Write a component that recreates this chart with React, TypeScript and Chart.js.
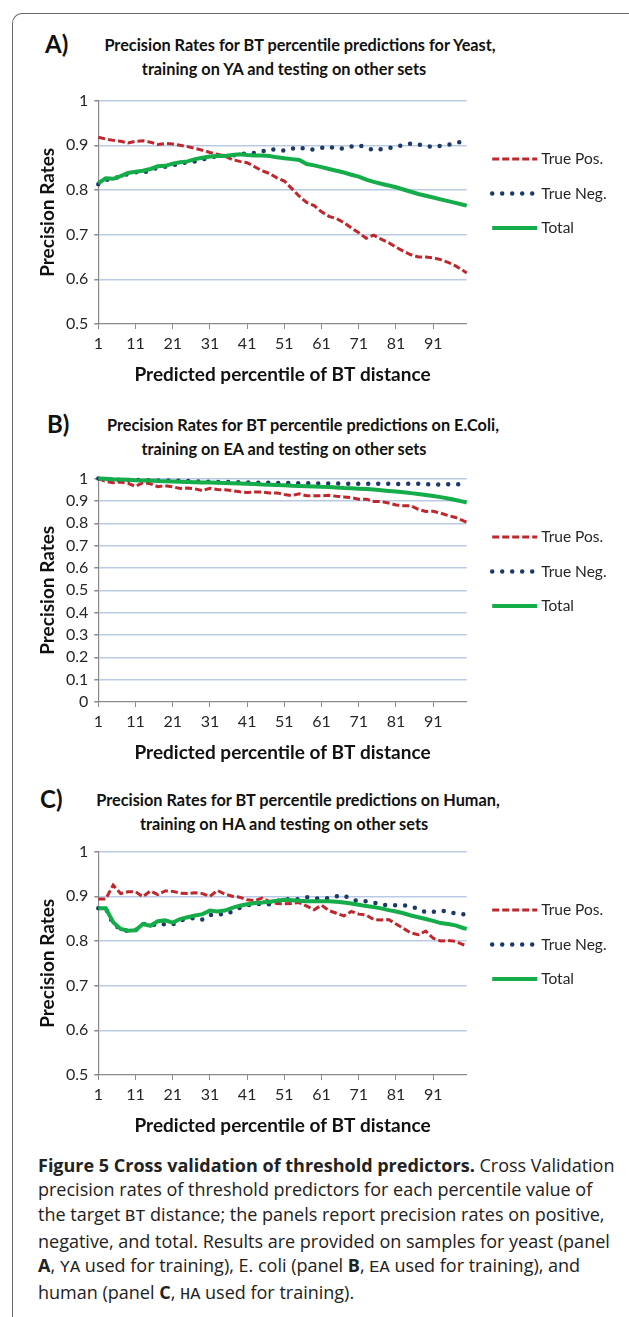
import React, { useEffect, useRef } from "react";
import { Chart, registerables } from "chart.js";

Chart.register(...registerables);

// ---------- data ----------
const PCT = [
  1, 3, 5, 7, 9, 11, 13, 15, 17, 19,
  21, 23, 25, 27, 29, 31, 33, 35, 37, 39,
  41, 43, 45, 47, 49, 51, 53, 55, 57, 59,
  61, 63, 65, 67, 69, 71, 73, 75, 77, 79,
  81, 83, 85, 87, 89, 91, 93, 95, 97, 99, 100,
];
const X_TICKS = [1, 11, 21, 31, 41, 51, 61, 71, 81, 91];
const Y_TICKS_AC = [0.5, 0.6, 0.7, 0.8, 0.9, 1];
const Y_LABELS_AC = ["0.5", "0.6", "0.7", "0.8", "0.9", "1"];
const Y_TICKS_B = [0, 0.1, 0.2, 0.3, 0.4, 0.5, 0.6, 0.7, 0.8, 0.9, 1];
const Y_LABELS_B = ["0", "0.1", "0.2", "0.3", "0.4", "0.5", "0.6", "0.7", "0.8", "0.9", "1"];
const SERIES = ["True Pos.", "True Neg.", "Total"];

// Panel A (Yeast)
const A_POS = [
  0.918, 0.914, 0.911, 0.909, 0.905, 0.909, 0.91, 0.907, 0.902, 0.904,
  0.903, 0.9, 0.897, 0.893, 0.889, 0.884, 0.88, 0.876, 0.868, 0.864,
  0.861, 0.852, 0.843, 0.837, 0.827, 0.82, 0.803, 0.786, 0.772, 0.765,
  0.751, 0.741, 0.736, 0.727, 0.715, 0.704, 0.692, 0.699, 0.69, 0.682,
  0.672, 0.663, 0.655, 0.65, 0.65, 0.648, 0.644, 0.638, 0.63, 0.62, 0.614,
];
const A_NEG = [
  0.813, 0.822, 0.826, 0.83, 0.836, 0.84, 0.838, 0.845, 0.85, 0.852,
  0.855, 0.859, 0.862, 0.864, 0.868, 0.873, 0.875, 0.876, 0.877, 0.88,
  0.882, 0.883, 0.886, 0.891, 0.89, 0.888, 0.892, 0.896, 0.89, 0.891,
  0.894, 0.897, 0.892, 0.893, 0.897, 0.9, 0.895, 0.889, 0.891, 0.894,
  0.896, 0.901, 0.904, 0.902, 0.899, 0.896, 0.899, 0.901, 0.905, 0.909, 0.911,
];
const A_TOT = [
  0.815, 0.826, 0.825, 0.831, 0.838, 0.841, 0.843, 0.847, 0.853, 0.854,
  0.859, 0.862, 0.864, 0.869, 0.872, 0.875, 0.876, 0.876, 0.878, 0.88,
  0.878, 0.877, 0.877, 0.876, 0.873, 0.871, 0.869, 0.867, 0.858, 0.855,
  0.851, 0.847, 0.843, 0.839, 0.834, 0.83, 0.823, 0.818, 0.814, 0.81,
  0.806, 0.801, 0.796, 0.791, 0.787, 0.783, 0.779, 0.775, 0.771, 0.767, 0.765,
];

// Panel B (E.Coli)
const B_POS = [
  1.0, 0.988, 0.982, 0.985, 0.979, 0.965, 0.982, 0.977, 0.964, 0.968,
  0.963, 0.956, 0.958, 0.954, 0.946, 0.957, 0.951, 0.95, 0.946, 0.941,
  0.938, 0.94, 0.94, 0.936, 0.936, 0.929, 0.924, 0.932, 0.923, 0.923,
  0.923, 0.925, 0.921, 0.918, 0.915, 0.908, 0.908, 0.898, 0.897, 0.891,
  0.882, 0.879, 0.878, 0.862, 0.853, 0.854, 0.845, 0.835, 0.826, 0.812, 0.805,
];
const B_NEG = [
  1.0, 0.998, 0.996, 0.995, 0.994, 0.994, 0.993, 0.993, 0.992, 0.992,
  0.991, 0.99, 0.989, 0.988, 0.987, 0.986, 0.985, 0.985, 0.984, 0.983,
  0.982, 0.982, 0.981, 0.981, 0.98, 0.98, 0.98, 0.979, 0.979, 0.979,
  0.978, 0.978, 0.978, 0.978, 0.977, 0.977, 0.977, 0.977, 0.977, 0.977,
  0.976, 0.976, 0.977, 0.977, 0.975, 0.974, 0.974, 0.975, 0.975, 0.974, 0.974,
];
const B_TOT = [
  1.0, 0.999, 0.997, 0.996, 0.995, 0.993, 0.992, 0.991, 0.989, 0.988,
  0.987, 0.986, 0.985, 0.984, 0.983, 0.982, 0.981, 0.98, 0.979, 0.978,
  0.977, 0.976, 0.974, 0.973, 0.971, 0.97, 0.968, 0.967, 0.966, 0.965,
  0.963, 0.962, 0.96, 0.958, 0.957, 0.955, 0.953, 0.951, 0.948, 0.945,
  0.942, 0.939, 0.935, 0.931, 0.927, 0.922, 0.917, 0.911, 0.904, 0.897, 0.893,
];

// Panel C (Human)
const C_POS = [
  0.894, 0.894, 0.925, 0.906, 0.91, 0.91, 0.899, 0.912, 0.904, 0.912,
  0.911, 0.907, 0.906, 0.908, 0.906, 0.9, 0.913, 0.905, 0.9, 0.898,
  0.892, 0.89, 0.896, 0.888, 0.884, 0.883, 0.884, 0.886, 0.878, 0.87,
  0.88, 0.868, 0.862, 0.856, 0.866, 0.86, 0.858, 0.848, 0.847, 0.848,
  0.838, 0.828, 0.818, 0.814, 0.822, 0.806, 0.8, 0.801, 0.799, 0.792, 0.789,
];
const C_NEG = [
  0.873, 0.873, 0.838, 0.826, 0.822, 0.824, 0.838, 0.838, 0.834, 0.838,
  0.837, 0.846, 0.849, 0.852, 0.848, 0.858, 0.86, 0.859, 0.866, 0.874,
  0.88, 0.883, 0.883, 0.882, 0.889, 0.895, 0.891, 0.894, 0.898, 0.896,
  0.894, 0.896, 0.9, 0.902, 0.893, 0.889, 0.889, 0.886, 0.881, 0.88,
  0.88, 0.88, 0.877, 0.872, 0.864, 0.865, 0.868, 0.866, 0.861, 0.86, 0.86,
];
const C_TOT = [
  0.873, 0.873, 0.842, 0.827, 0.823, 0.824, 0.838, 0.834, 0.844, 0.846,
  0.841, 0.849, 0.853, 0.857, 0.86, 0.868, 0.866, 0.868, 0.874, 0.879,
  0.882, 0.885, 0.886, 0.888, 0.89, 0.892, 0.891, 0.89, 0.889, 0.889,
  0.889, 0.889, 0.888, 0.886, 0.884, 0.881, 0.878, 0.876, 0.873, 0.869,
  0.866, 0.862, 0.857, 0.853, 0.849, 0.845, 0.84, 0.838, 0.835, 0.829, 0.827,
];

// ---------- styling ----------
const FONT = "Lato, 'Open Sans', sans-serif";
const CAPTION_FONT = "'Open Sans', 'Noto Sans', sans-serif";
const RED = "#c0272d";
const NAVY = "#1c3a68";
const GREEN = "#14ad4a";
const GRID = "#b9cbe4";
const AXIS = "#8a8a8a";
const TEXT = "#262626";

const PLOT_LEFT = 98.3;
const PLOT_RIGHT = 466.7;
const PLOT_H = 225;
const TOP_PAD = 14;
const AXIS_TITLE_SIZE = 19;
const X_AXIS_H = 62.4;
const CANVAS_W = 629;
const CANVAS_H = Math.round(TOP_PAD + PLOT_H + X_AXIS_H);
const Y_TITLE_LEFT = 36.6;

const sideLegend = {
  id: "sideLegend",
  afterDraw(chart: any) {
    const { ctx, chartArea } = chart;
    const x0 = chartArea.right + 25.5;
    chart.data.datasets.forEach((ds: any, i: number) => {
      const y = chartArea.top + 58.5 + i * 34.5;
      ctx.save();
      ctx.strokeStyle = ds.borderColor;
      ctx.lineWidth = ds.borderWidth;
      ctx.lineCap = ds.borderCapStyle || "butt";
      ctx.setLineDash(ds.borderDash || []);
      ctx.beginPath();
      ctx.moveTo(x0, y);
      ctx.lineTo(x0 + 45, y);
      ctx.stroke();
      ctx.setLineDash([]);
      ctx.fillStyle = TEXT;
      ctx.font = `15.5px ${FONT}`;
      ctx.textBaseline = "middle";
      ctx.textAlign = "left";
      ctx.fillText(ds.label, x0 + 49, y);
      ctx.restore();
    });
  },
};

type PanelProps = {
  top: number;
  pos: number[];
  neg: number[];
  tot: number[];
  yTicks: number[];
  yLabels: string[];
};

function Panel({ top, pos, neg, tot, yTicks, yLabels }: PanelProps) {
  const ref = useRef<HTMLCanvasElement>(null);
  useEffect(() => {
    const yMin = yTicks[0];
    const yMax = yTicks[yTicks.length - 1];
    const toPts = (arr: number[]) => PCT.map((x, i) => ({ x, y: arr[i] }));
    const chart = new Chart(ref.current as HTMLCanvasElement, {
      type: "line",
      data: {
        datasets: [
          {
            label: SERIES[0],
            data: toPts(pos),
            borderColor: RED,
            borderWidth: 3,
            borderDash: [7, 3],
            borderCapStyle: "butt",
            pointRadius: 0,
            tension: 0,
            clip: false,
            order: 2,
          },
          {
            label: SERIES[1],
            data: toPts(neg),
            borderColor: NAVY,
            borderWidth: 4.5,
            borderDash: [0, 10],
            borderCapStyle: "round",
            pointRadius: 0,
            tension: 0,
            clip: false,
            order: 1,
          },
          {
            label: SERIES[2],
            data: toPts(tot),
            borderColor: GREEN,
            borderWidth: 4,
            borderCapStyle: "butt",
            pointRadius: 0,
            tension: 0,
            clip: false,
            order: 0,
          },
        ],
      } as any,
      options: {
        responsive: false,
        animation: false,
        events: [],
        layout: {
          padding: {
            left: Y_TITLE_LEFT,
            right: CANVAS_W - PLOT_RIGHT,
            top: TOP_PAD,
            bottom: CANVAS_H - (TOP_PAD + PLOT_H + X_AXIS_H),
          },
        },
        plugins: {
          legend: { display: false },
          tooltip: { enabled: false },
          title: { display: false },
        },
        scales: {
          x: {
            type: "linear",
            min: 1,
            max: 100,
            afterBuildTicks: (s: any) => {
              s.ticks = X_TICKS.map((v) => ({ value: v }));
            },
            afterFit: (s: any) => {
              s.height = X_AXIS_H;
            },
            grid: {
              drawOnChartArea: false,
              drawTicks: true,
              tickLength: 5,
              tickColor: AXIS,
              color: AXIS,
            },
            border: { display: true, color: AXIS, width: 1.2 },
            ticks: {
              color: TEXT,
              font: { family: FONT, size: 16 },
              padding: 5,
              maxRotation: 0,
              autoSkip: false,
              callback: (v: any) => String(v),
            },
            title: {
              display: true,
              text: "Predicted percentile of BT distance",
              color: "#111",
              font: { family: FONT, size: AXIS_TITLE_SIZE, weight: "bold" },
              padding: 0,
            },
          },
          y: {
            type: "linear",
            min: yMin,
            max: yMax,
            afterBuildTicks: (s: any) => {
              s.ticks = yTicks.map((v) => ({ value: v }));
            },
            afterFit: (s: any) => {
              s.width = PLOT_LEFT - Y_TITLE_LEFT;
            },
            grid: {
              color: (c: any) =>
                c.tick && Math.abs(c.tick.value - yMin) < 1e-9 ? "rgba(0,0,0,0)" : GRID,
              lineWidth: 1.5,
              drawTicks: true,
              tickLength: 4,
              tickColor: AXIS,
            },
            border: { display: true, color: AXIS, width: 1.2 },
            ticks: {
              color: TEXT,
              font: { family: FONT, size: 16 },
              padding: 6,
              callback: (_v: any, i: number) => yLabels[i],
            },
            title: {
              display: true,
              text: "Precision Rates",
              color: "#111",
              font: { family: FONT, size: AXIS_TITLE_SIZE, weight: "bold" },
              padding: 0,
            },
          },
        },
      } as any,
      plugins: [sideLegend],
    });
    return () => chart.destroy();
  }, []);
  return (
    <canvas
      ref={ref}
      width={CANVAS_W}
      height={CANVAS_H}
      style={{ position: "absolute", left: 0, top: top - TOP_PAD, width: CANVAS_W, height: CANVAS_H }}
    />
  );
}

const titleStyle: React.CSSProperties = {
  position: "absolute",
  whiteSpace: "nowrap",
  fontFamily: FONT,
  fontWeight: 700,
  fontSize: 16.3,
  lineHeight: "20px",
  color: "#111",
};

function Title({ letter, letterX, cy, line1, cx1, line2, cx2 }: any) {
  return (
    <>
      <div style={{ ...titleStyle, left: letterX, top: cy - 15, fontSize: 24, lineHeight: "28px" }}>{letter}</div>
      <div style={{ ...titleStyle, left: cx1, top: cy - 10, transform: "translateX(-50%)" }}>{line1}</div>
      <div style={{ ...titleStyle, left: cx2, top: cy + 24 - 10, transform: "translateX(-50%)" }}>{line2}</div>
    </>
  );
}

const mono: React.CSSProperties = { fontFamily: "'Liberation Mono', 'DejaVu Sans Mono', monospace", fontSize: 17 };

export default function App() {
  return (
    <div
      style={{
        position: "absolute",
        left: 0,
        top: 0,
        width: 629,
        height: 1317,
        overflow: "hidden",
        background: "#fff",
      }}
    >
      <div
        style={{
          position: "absolute",
          left: 12,
          top: 13,
          width: 800,
          height: 1500,
          borderTop: "1.5px solid #6b6b6b",
          borderLeft: "1.5px solid #6b6b6b",
          borderTopLeftRadius: 10,
        }}
      />
      <Title
        letter="A)"
        letterX={45}
        cy={45}
        line1="Precision Rates for BT percentile predictions for Yeast,"
        cx1={300}
        line2="training on YA and testing on other sets"
        cx2={284}
      />
      <Panel top={99} pos={A_POS} neg={A_NEG} tot={A_TOT} yTicks={Y_TICKS_AC} yLabels={Y_LABELS_AC} />

      <Title
        letter="B)"
        letterX={47}
        cy={425}
        line1="Precision Rates for BT percentile predictions on E.Coli,"
        cx1={303}
        line2="training on EA and testing on other sets"
        cx2={284}
      />
      <Panel top={476.7} pos={B_POS} neg={B_NEG} tot={B_TOT} yTicks={Y_TICKS_B} yLabels={Y_LABELS_B} />

      <Title
        letter="C)"
        letterX={40}
        cy={800}
        line1="Precision Rates for BT percentile predictions on Human,"
        cx1={298}
        line2="training on HA and testing on other sets"
        cx2={284}
      />
      <Panel top={850} pos={C_POS} neg={C_NEG} tot={C_TOT} yTicks={Y_TICKS_AC} yLabels={Y_LABELS_AC} />

      <div
        style={{
          position: "absolute",
          left: 38,
          top: 1153,
          whiteSpace: "nowrap",
          fontFamily: CAPTION_FONT,
          fontSize: 18,
          lineHeight: "24.3px",
          color: "#222",
        }}
      >
        <b>Figure 5 Cross validation of threshold predictors.</b> Cross Validation
        <br />
        precision rates of threshold predictors for each percentile value of
        <br />
        the target <span style={mono}>BT</span> distance; the panels report precision rates on positive,
        <br />
        negative, and total. Results are provided on samples for yeast (panel
        <br />
        <b>A</b>, <span style={mono}>YA</span> used for training), E. coli (panel <b>B</b>,{" "}
        <span style={mono}>EA</span> used for training), and
        <br />
        human (panel <b>C</b>, <span style={mono}>HA</span> used for training).
      </div>
    </div>
  );
}
